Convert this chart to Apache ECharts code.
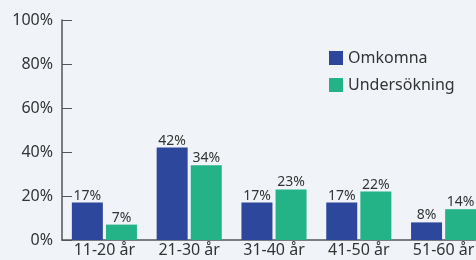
<!DOCTYPE html>
<html lang="sv">
<head>
    <meta charset="utf-8">
    <script src="https://cdn.jsdelivr.net/npm/echarts@6/dist/echarts.min.js"></script>
    <style>
        html, body { margin: 0; padding: 0; background: #f0f4f8; overflow: hidden; }
        #chart { width: 486px; height: 260px; }
    </style>
</head>
<body>
<div id="chart"></div>
<script type="text/javascript">
    var categories = ['11-20 år', '21-30 år', '31-40 år', '41-50 år', '51-60 år'];
    var omkomna = [17, 42, 17, 17, 8];
    var undersokning = [7, 34, 23, 22, 14];
    var seriesNames = ['Omkomna', 'Undersökning'];

    var chart = echarts.init(document.getElementById('chart'));
    var font = 'Noto Sans';
    var labelStyle = {
        show: true,
        position: 'top',
        distance: 0,
        formatter: '{c}%',
        fontFamily: font,
        fontSize: 14,
        color: '#333'
    };

    var option = {
        backgroundColor: '#f0f4f8',
        animation: false,
        // plot runs past the right edge of the 476px window, as in the original
        grid: { left: 62, right: 0, top: 20, bottom: 20 },
        legend: {
            orient: 'vertical',
            left: 324,
            top: 45,
            itemWidth: 14,
            itemHeight: 14,
            itemGap: 11,
            icon: 'rect',
            data: seriesNames,
            textStyle: { fontFamily: font, fontSize: 16, color: '#333' }
        },
        xAxis: {
            type: 'category',
            data: categories,
            axisLine: { lineStyle: { color: '#555', width: 1.5 } },
            axisTick: { inside: true, length: 4, lineStyle: { color: '#555' } },
            axisLabel: { fontFamily: font, fontSize: 16, color: '#333', margin: 2 }
        },
        yAxis: {
            type: 'value',
            min: 0,
            max: 100,
            interval: 20,
            splitLine: { show: false },
            axisLine: { show: true, lineStyle: { color: '#555', width: 1.5 } },
            axisTick: { show: true, inside: true, length: 10, lineStyle: { color: '#555' } },
            axisLabel: { fontFamily: font, fontSize: 16, color: '#333', margin: 9, formatter: '{value}%' }
        },
        series: [{
            name: seriesNames[0],
            type: 'bar',
            barWidth: 31,
            barGap: '10%',
            itemStyle: { color: '#2d479c' },
            label: labelStyle,
            data: omkomna
        }, {
            name: seriesNames[1],
            type: 'bar',
            barWidth: 31,
            barGap: '10%',
            itemStyle: { color: '#23b386' },
            label: labelStyle,
            data: undersokning
        }]
    };
    chart.setOption(option);
</script>
</body>
</html>
